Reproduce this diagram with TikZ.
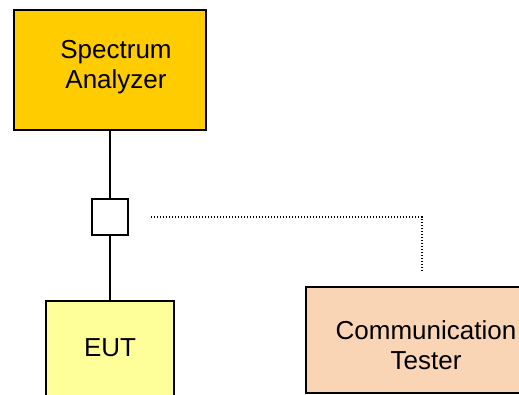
\documentclass[tikz,border=0pt]{standalone}
\usepackage{fontspec}
\setmainfont{Liberation Sans}
\definecolor{saorange}{HTML}{FFCC00}
\definecolor{eutyellow}{HTML}{FFFF99}
\definecolor{ctpeach}{HTML}{F9D4B5}
\begin{document}
\begin{tikzpicture}[x=1pt,y=-1pt,
  box/.style={draw=black,line width=1.8pt,inner sep=0pt,outer sep=0pt},
  lbl/.style={font=\fontsize{26}{30}\selectfont,align=center,inner sep=0pt},
  wire/.style={line width=1.5pt},
  dotline/.style={line width=1.3pt,dash pattern=on 1.3pt off 1.7pt}]
\useasboundingbox (0,0) rectangle (519,394);
\clip (0,0) rectangle (519,394);
\node[box,fill=saorange,minimum width=192pt,minimum height=120pt] (sa) at (110,70) {};
\node[lbl] (satext) at (116,67) {Spectrum\\Analyzer};
\node[box,fill=white,minimum width=36pt,minimum height=36pt] (cp) at (110,217) {};
\node[box,fill=eutyellow,minimum width=128pt,minimum height=120pt] (eut) at (110,361) {};
\node[lbl] (euttext) at (110,347.5) {EUT};
\node[box,fill=ctpeach,minimum width=240pt,minimum height=106pt] (ct) at (426,340) {};
\node[lbl] (cttext) at (426,345) {Communication\\Tester};
\draw[wire] (sa.south) -- (cp.north);
\draw[wire] (cp.south) -- (eut.north);
\coordinate (d1) at (151,217);
\coordinate (d2) at (422,272);
\draw[dotline] (d1) -| (d2);
\end{tikzpicture}
\end{document}
